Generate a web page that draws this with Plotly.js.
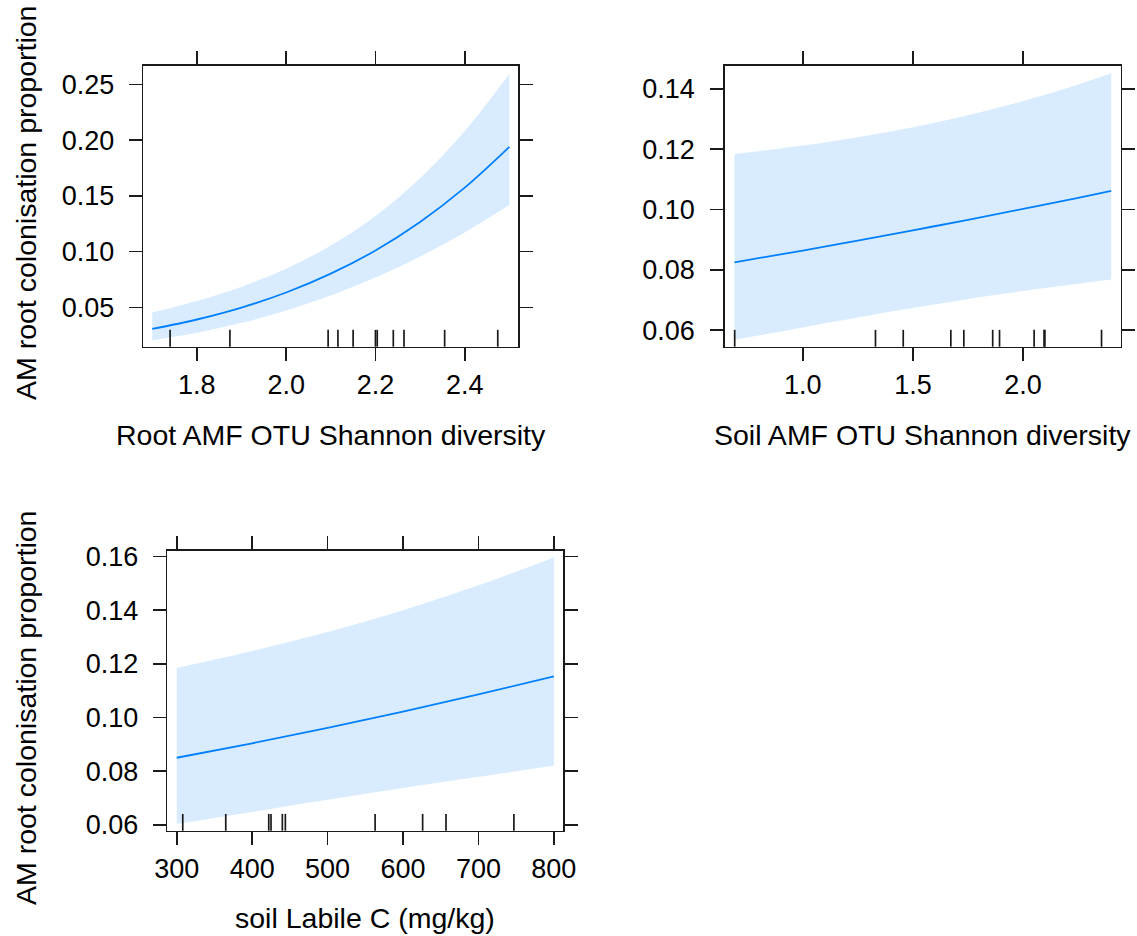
<!DOCTYPE html>
<html>
<head>
<meta charset="utf-8">
<script src="https://cdn.plot.ly/plotly-3.0.1.min.js"></script>
<style>
  html, body { margin: 0; padding: 0; background: #ffffff; }
  #chart { width: 1137px; height: 936px; }
</style>
</head>
<body>
<div id="chart"></div>
<script>
// ---------- Panel 1: Root AMF OTU Shannon diversity ----------
const rootX     = [1.7, 1.8, 1.9, 2.0, 2.1, 2.2, 2.3, 2.4, 2.5];
const rootFit   = [0.0306, 0.0391, 0.0498, 0.0633, 0.0802, 0.1010, 0.1266, 0.1574, 0.1940];
const rootLower = [0.0205, 0.0273, 0.0361, 0.0471, 0.0606, 0.0767, 0.0955, 0.1172, 0.1418];
const rootUpper = [0.0455, 0.0557, 0.0685, 0.0847, 0.1054, 0.1319, 0.1658, 0.2081, 0.2596];
const rootRug   = [1.74, 1.874, 2.094, 2.116, 2.150, 2.200, 2.204, 2.240, 2.264, 2.355, 2.474];
const rootXTicks = [1.8, 2.0, 2.2, 2.4];
const rootYTicks = [0.05, 0.10, 0.15, 0.20, 0.25];

// ---------- Panel 2: Soil AMF OTU Shannon diversity ----------
const soilX     = [0.69, 1.0, 1.25, 1.5, 1.75, 2.0, 2.25, 2.40];
const soilFit   = [0.0825, 0.0864, 0.0897, 0.0931, 0.0966, 0.1002, 0.1039, 0.1062];
const soilLower = [0.0568, 0.0609, 0.0642, 0.0673, 0.0703, 0.0730, 0.0754, 0.0768];
const soilUpper = [0.1184, 0.1212, 0.1240, 0.1273, 0.1313, 0.1360, 0.1415, 0.1452];
const soilRug   = [0.691, 1.330, 1.456, 1.672, 1.731, 1.862, 1.893, 2.050, 2.095, 2.099, 2.356];
const soilXTicks = [1.0, 1.5, 2.0];
const soilYTicks = [0.06, 0.08, 0.10, 0.12, 0.14];

// ---------- Panel 3: soil Labile C (mg/kg) ----------
const labX     = [300, 400, 500, 600, 700, 800];
const labFit   = [0.0850, 0.0904, 0.0961, 0.1022, 0.1086, 0.1153];
const labLower = [0.0603, 0.0648, 0.0693, 0.0737, 0.0779, 0.0820];
const labUpper = [0.1185, 0.1248, 0.1319, 0.1400, 0.1493, 0.1597];
const labRug   = [308, 365, 422, 425, 440, 444, 563, 626, 657, 747];
const labXTicks = [300, 400, 500, 600, 700, 800];
const labYTicks = [0.06, 0.08, 0.10, 0.12, 0.14, 0.16];

const yTitle = 'AM root colonisation proportion';
const xTitles = ['Root AMF OTU Shannon diversity', 'Soil AMF OTU Shannon diversity', 'soil Labile C (mg/kg)'];

// ---------- styling ----------
const FONT = 'Liberation Sans, Arial, Helvetica, sans-serif';
const FS = 27;
const TFS = 28.5;
const LINE_COL = '#0080ff';
const BAND_COL = 'rgb(217,236,255)';
const AX_COL = '#1a1a1a';
const W = 1137, H = 936;

function bandTraces(x, lo, hi, fit, xa, ya) {
  return [
    {x: x, y: lo, xaxis: xa, yaxis: ya, mode: 'lines', line: {width: 0, shape: 'spline', color: BAND_COL},
     hoverinfo: 'skip', showlegend: false},
    {x: x, y: hi, xaxis: xa, yaxis: ya, mode: 'lines', line: {width: 0, shape: 'spline', color: BAND_COL},
     fill: 'tonexty', fillcolor: BAND_COL, hoverinfo: 'skip', showlegend: false},
    {x: x, y: fit, xaxis: xa, yaxis: ya, mode: 'lines', line: {width: 1.8, shape: 'spline', color: LINE_COL},
     showlegend: false}
  ];
}

const data = [].concat(
  bandTraces(rootX, rootLower, rootUpper, rootFit, 'x', 'y'),
  bandTraces(soilX, soilLower, soilUpper, soilFit, 'x2', 'y2'),
  bandTraces(labX, labLower, labUpper, labFit, 'x3', 'y3')
);

function axisBase(extra) {
  return Object.assign({
    showline: true, linecolor: AX_COL, linewidth: 1.7, mirror: 'allticks',
    ticks: 'outside', ticklen: 13, tickwidth: 1.7, tickcolor: AX_COL,
    showgrid: false, zeroline: false, fixedrange: true,
    tickfont: {family: FONT, size: FS, color: '#000000'}
  }, extra);
}

function dom(a, b, total) { return [a / total, b / total]; }
function ydom(top, bottom) { return [1 - bottom / H, 1 - top / H]; }

const layout = {
  width: W, height: H,
  margin: {l: 0, r: 0, t: 0, b: 0},
  paper_bgcolor: '#ffffff', plot_bgcolor: '#ffffff',
  showlegend: false,
  xaxis: axisBase({domain: dom(143.3, 518.3, W), range: [1.68, 2.52], tickvals: rootXTicks, tickformat: '.1f', anchor: 'y'}),
  yaxis: axisBase({domain: ydom(66, 346.7), range: [0.0147, 0.2665], tickvals: rootYTicks, tickformat: '.2f', anchor: 'x', ticklabelstandoff: 9}),
  xaxis2: axisBase({domain: dom(725, 1120.7, W), range: [0.647, 2.443], tickvals: soilXTicks, tickformat: '.1f', anchor: 'y2'}),
  yaxis2: axisBase({domain: ydom(66, 346.7), range: [0.0545, 0.1476], tickvals: soilYTicks, tickformat: '.2f', anchor: 'x2', ticklabelstandoff: 10}),
  xaxis3: axisBase({domain: dom(167.3, 563.3, W), range: [287.5, 812.5], tickvals: labXTicks, tickformat: 'd', anchor: 'y3'}),
  yaxis3: axisBase({domain: ydom(550.7, 830.7), range: [0.0578, 0.1622], tickvals: labYTicks, tickformat: '.2f', anchor: 'x3', ticklabelstandoff: 9}),
  shapes: [],
  annotations: []
};

function addRug(vals, xref, yref) {
  vals.forEach(v => {
    layout.shapes.push({type: 'line', xref: xref, yref: yref + ' domain', x0: v, x1: v, y0: 0, y1: 0.06,
      line: {color: AX_COL, width: 1.7}});
  });
}
addRug(rootRug, 'x', 'y');
addRug(soilRug, 'x2', 'y2');
addRug(labRug, 'x3', 'y3');

function addText(text, xPx, yPx, angle) {
  layout.annotations.push({text: text, xref: 'paper', yref: 'paper', x: xPx / W, y: 1 - yPx / H,
    xanchor: 'center', yanchor: 'middle', showarrow: false, textangle: angle || 0,
    font: {family: FONT, size: TFS, color: '#000000'}});
}
addText(xTitles[0], 330.8, 435);
addText(xTitles[1], 922.8, 435);
addText(xTitles[2], 365.3, 918);
addText(yTitle, 26, 203, -90);
addText(yTitle, 26, 708, -90);

Plotly.newPlot('chart', data, layout, {displayModeBar: false, staticPlot: true});
</script>
</body>
</html>
